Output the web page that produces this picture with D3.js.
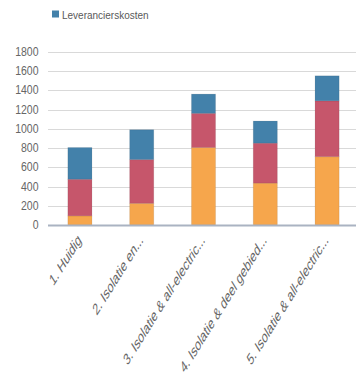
<!DOCTYPE html>
<html><head><meta charset="utf-8">
<script src="https://cdn.jsdelivr.net/npm/d3@7"></script>
<style>html,body{margin:0;padding:0;background:#fff;}svg{display:block;}</style>
</head><body>
<script>
const categories = ["1. Huidig","2. Isolatie en...","3. Isolatie & all-electric...","4. Isolatie & deel gebied...","5. Isolatie & all-electric..."];
const seriesNames = ["Serie1","Serie2","Leverancierskosten"];
const orangeValues = [95, 225, 805, 435, 710];
const redValues = [380, 455, 355, 415, 580];
const blueValues = [330, 310, 200, 230, 260];
const yTicks = [0,200,400,600,800,1000,1200,1400,1600,1800];
const colors = ["#f6a64c","#c6566b","#4381aa"];

const W = 356, H = 377;
const svg = d3.select("body").append("svg").attr("width", W).attr("height", H);

const data = categories.map((c,i)=>({cat:c, Serie1:orangeValues[i], Serie2:redValues[i], Leverancierskosten:blueValues[i]}));
const stack = d3.stack().keys(seriesNames)(data);

const x = d3.scaleBand().domain(categories).range([49, 358]).paddingInner(0.61).paddingOuter(0.305);
const y = d3.scaleLinear().domain([0,1800]).range([225, 51.75]);

// gridlines
svg.append("g").selectAll("line").data(yTicks.filter(d=>d>0)).join("line")
  .attr("x1", 48).attr("x2", 356)
  .attr("y1", d=>Math.round(y(d))+0.5).attr("y2", d=>Math.round(y(d))+0.5)
  .attr("stroke", "#d9d9d9").attr("stroke-width", 1);

// y axis
const yAxis = svg.append("g").attr("transform","translate(38.5,0)")
  .call(d3.axisLeft(y).tickValues(yTicks).tickFormat(d3.format("d")).tickSize(0).tickPadding(0));
yAxis.select(".domain").remove();
yAxis.selectAll(".tick").attr("transform", null);
yAxis.selectAll("text")
  .attr("font-family","'Liberation Sans', Arial, sans-serif")
  .attr("font-size", 10.5).attr("fill","#666666")
  .attr("dy", null).attr("x", 0)
  .attr("y", 0)
  .attr("transform", d=>`translate(0,${y(d)+4.2}) scale(1,1.15)`);

// bars
svg.append("g").selectAll("g").data(stack).join("g")
  .attr("fill", (d,i)=>colors[i])
  .selectAll("rect").data(d=>d).join("rect")
  .attr("x", d=>x(d.data.cat)).attr("width", x.bandwidth())
  .attr("y", d=>y(d[1])).attr("height", d=>y(d[0])-y(d[1]))
  .attr("stroke", "rgba(0,0,0,0.08)").attr("stroke-width", 1);

// x axis line
svg.append("line").attr("x1",48).attr("x2",356).attr("y1",225.5).attr("y2",225.5)
  .attr("stroke","#aab3c2").attr("stroke-width",2);

// x labels
svg.append("g").selectAll("text").data(categories).join("text")
  .attr("transform", d=>`translate(${x(d)+x.bandwidth()/2+2},${241}) scale(1,1.6) rotate(-45)`)
  .attr("text-anchor","end")
  .attr("font-family","'Liberation Sans', Arial, sans-serif")
  .attr("font-size", 10.2).attr("fill","#666666")
  .text(d=>d);

// legend
const lg = svg.append("g");
lg.append("rect").attr("x",52).attr("y",10.5).attr("width",7).attr("height",7).attr("fill",colors[2]);
lg.append("text").attr("x",0).attr("y",0)
  .attr("font-family","'Liberation Sans', Arial, sans-serif")
  .attr("font-size",10).attr("fill","#595959")
  .attr("transform","translate(62,18.5) scale(1,1.15)")
  .text(seriesNames[2]);
</script>
</body></html>
